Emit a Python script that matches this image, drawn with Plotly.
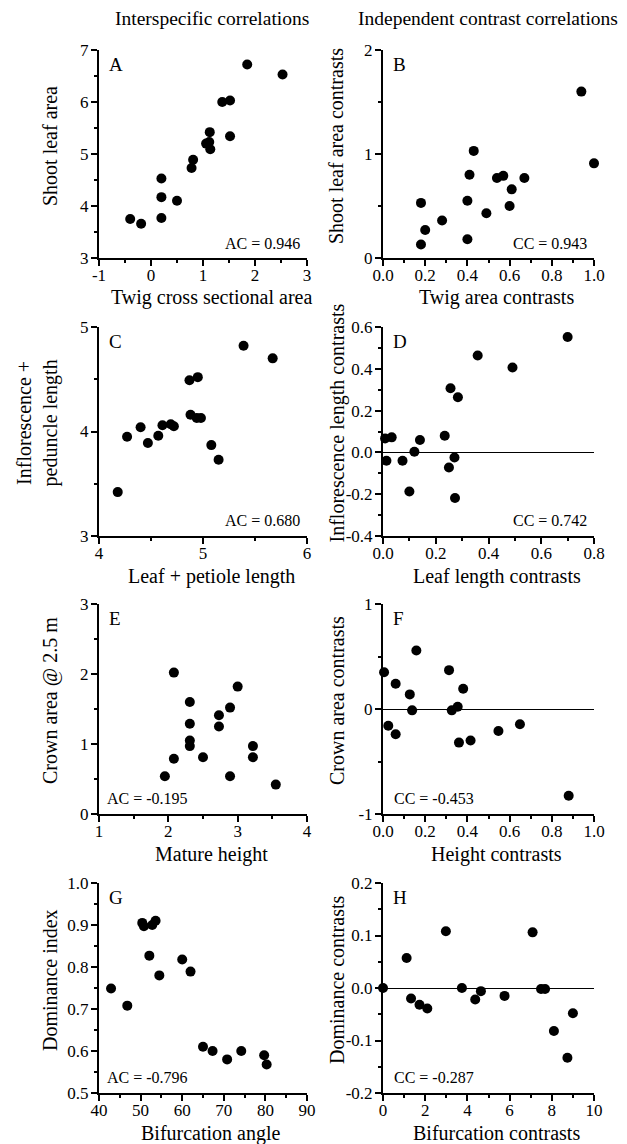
import plotly.graph_objects as go

# ---------------- data ----------------
A_x = [-0.40, -0.19, 0.20, 0.20, 0.20, 0.50, 0.78, 0.81, 1.06, 1.12, 1.14, 1.13, 1.37, 1.52, 1.52, 1.85, 2.53]
A_y = [3.75, 3.66, 4.53, 4.17, 3.77, 4.10, 4.73, 4.89, 5.20, 5.23, 5.09, 5.42, 6.00, 6.03, 5.34, 6.72, 6.53]

B_x = [0.18, 0.20, 0.18, 0.28, 0.40, 0.41, 0.43, 0.40, 0.49, 0.54, 0.57, 0.61, 0.60, 0.67, 0.94, 1.00]
B_y = [0.53, 0.27, 0.13, 0.36, 0.55, 0.80, 1.03, 0.18, 0.43, 0.77, 0.79, 0.66, 0.50, 0.77, 1.60, 0.91]

C_x = [4.18, 4.27, 4.40, 4.47, 4.57, 4.61, 4.69, 4.72, 4.87, 4.95, 4.88, 4.94, 4.98, 5.08, 5.15, 5.39, 5.67]
C_y = [3.42, 3.95, 4.04, 3.89, 3.96, 4.06, 4.07, 4.05, 4.49, 4.52, 4.16, 4.13, 4.13, 3.87, 3.73, 4.82, 4.70]

D_x = [0.008, 0.033, 0.013, 0.074, 0.119, 0.14, 0.10, 0.234, 0.256, 0.284, 0.271, 0.25, 0.273, 0.359, 0.491, 0.70]
D_y = [0.067, 0.072, -0.04, -0.04, 0.003, 0.059, -0.187, 0.08, 0.307, 0.264, -0.024, -0.072, -0.218, 0.464, 0.406, 0.552]

E_x = [1.95, 2.08, 2.08, 2.31, 2.31, 2.31, 2.31, 2.50, 2.73, 2.73, 2.89, 2.89, 3.00, 3.22, 3.22, 3.55]
E_y = [0.54, 0.79, 2.02, 1.60, 1.29, 1.05, 0.97, 0.81, 1.41, 1.25, 1.52, 0.54, 1.82, 0.97, 0.81, 0.42]

F_x = [0.005, 0.06, 0.158, 0.127, 0.138, 0.025, 0.06, 0.313, 0.38, 0.326, 0.354, 0.36, 0.415, 0.547, 0.649, 0.88]
F_y = [0.35, 0.24, 0.557, 0.139, -0.013, -0.16, -0.24, 0.37, 0.193, -0.013, 0.022, -0.32, -0.30, -0.21, -0.146, -0.826]

G_x = [42.9, 46.8, 50.4, 50.8, 52.1, 52.8, 53.6, 54.5, 60.0, 62.0, 65.0, 67.3, 70.8, 74.2, 79.7, 80.3]
G_y = [0.749, 0.708, 0.905, 0.897, 0.827, 0.90, 0.91, 0.78, 0.818, 0.789, 0.61, 0.60, 0.58, 0.60, 0.59, 0.568]

H_x = [0.0, 1.12, 1.33, 1.73, 2.10, 2.98, 3.74, 4.37, 4.64, 5.76, 7.09, 7.49, 7.68, 8.10, 9.0, 8.74]
H_y = [0.0, 0.057, -0.020, -0.032, -0.039, 0.108, 0.0, -0.022, -0.006, -0.015, 0.106, -0.002, -0.002, -0.082, -0.048, -0.133]

panel_letters = ["A", "B", "C", "D", "E", "F", "G", "H"]
corr_labels = ["AC = 0.946", "CC = 0.943", "AC = 0.680", "CC = 0.742",
               "AC = -0.195", "CC = -0.453", "AC = -0.796", "CC = -0.287"]
x_titles = ["Twig cross sectional area", "Twig area contrasts",
            "Leaf + petiole length", "Leaf length contrasts",
            "Mature height", "Height contrasts",
            "Bifurcation angle", "Bifurcation contrasts"]
y_titles = ["Shoot leaf area", "Shoot leaf area contrasts",
            "Inflorescence +<br>peduncle length", "Inflorescence length contrasts",
            "Crown area @ 2.5 m", "Crown area contrasts",
            "Dominance index", "Dominance contrasts"]
col_titles = ["Interspecific correlations", "Independent contrast correlations"]

# tick values / labels
x_ticks = [
    ([-1, 0, 1, 2, 3], ["-1", "0", "1", "2", "3"]),
    ([0.0, 0.2, 0.4, 0.6, 0.8, 1.0], ["0.0", "0.2", "0.4", "0.6", "0.8", "1.0"]),
    ([4, 5, 6], ["4", "5", "6"]),
    ([0.0, 0.2, 0.4, 0.6, 0.8], ["0.0", "0.2", "0.4", "0.6", "0.8"]),
    ([1, 2, 3, 4], ["1", "2", "3", "4"]),
    ([0.0, 0.2, 0.4, 0.6, 0.8, 1.0], ["0.0", "0.2", "0.4", "0.6", "0.8", "1.0"]),
    ([40, 50, 60, 70, 80, 90], ["40", "50", "60", "70", "80", "90"]),
    ([0, 2, 4, 6, 8, 10], ["0", "2", "4", "6", "8", "10"]),
]
y_ticks = [
    ([3, 4, 5, 6, 7], ["3", "4", "5", "6", "7"]),
    ([0, 1, 2], ["0", "1", "2"]),
    ([3, 4, 5], ["3", "4", "5"]),
    ([-0.4, -0.2, 0.0, 0.2, 0.4, 0.6], ["-0.4", "-0.2", "0.0", "0.2", "0.4", "0.6"]),
    ([0, 1, 2, 3], ["0", "1", "2", "3"]),
    ([-1, 0, 1], ["-1", "0", "1"]),
    ([0.5, 0.6, 0.7, 0.8, 0.9, 1.0], ["0.5", "0.6", "0.7", "0.8", "0.9", "1.0"]),
    ([-0.2, -0.1, 0.0, 0.1, 0.2], ["-0.2", "-0.1", "0.0", "0.1", "0.2"]),
]
x_minor = [0.5, 0.1, 0.5, 0.1, 0.5, 0.1, 5, 1]
y_minor = [0.5, 0.5, 0.5, 0.1, 0.5, 0.5, 0.05, 0.05]

series = [(A_x, A_y), (B_x, B_y), (C_x, C_y), (D_x, D_y),
          (E_x, E_y), (F_x, F_y), (G_x, G_y), (H_x, H_y)]
has_zero_line = [False, False, False, True, False, True, False, True]

# ---------------- layout geometry (window pixels) ----------------
PAGE_OFF = 8                      # default page body margin
W, H = 627 - PAGE_OFF, 1144 - PAGE_OFF
col_px = [(99, 307), (383, 594)]
row_px = [(50, 258), (327, 536), (604, 814), (883, 1093)]


def px(x):
    return (x - PAGE_OFF) / W


def py(y):
    return 1 - (y - PAGE_OFF) / H


FONT = "Liberation Serif, Times New Roman, serif"
fig = go.Figure()
layout = dict(width=W, height=H, margin=dict(l=0, r=0, t=0, b=0, autoexpand=False),
              template="none",
              paper_bgcolor="white", plot_bgcolor="white", showlegend=False,
              font=dict(family=FONT, color="black", size=17))
annotations = []

for i in range(8):
    r, c = divmod(i, 2)
    n = i + 1
    sfx = "" if n == 1 else str(n)
    xs, ys = series[i]
    fig.add_trace(go.Scatter(x=xs, y=ys, mode="markers",
                             marker=dict(color="black", size=10, line=dict(width=0)),
                             cliponaxis=False,
                             xaxis=f"x{sfx}", yaxis=f"y{sfx}"))
    x0, x1 = col_px[c]
    y0, y1 = row_px[r]
    xt, xl = x_ticks[i]
    yt, yl = y_ticks[i]
    axis_common = dict(showline=True, linecolor="black", linewidth=2,
                       ticks="outside", ticklen=6, tickwidth=2, tickcolor="black",
                       showgrid=False, mirror=False, automargin=False,
                       tickfont=dict(family=FONT, size=17, color="black"),
                       tickmode="array")
    layout[f"xaxis{sfx}"] = dict(
        axis_common, domain=[px(x0), px(x1)], anchor=f"y{sfx}",
        range=[xt[0], xt[-1]], tickvals=xt, ticktext=xl, zeroline=False,
        ticklabelstandoff=-5,
        minor=dict(ticks="outside", ticklen=3, tickwidth=1.5, tickcolor="black",
                   tick0=xt[0], dtick=x_minor[i], showgrid=False))
    layout[f"yaxis{sfx}"] = dict(
        axis_common, domain=[py(y1), py(y0)], anchor=f"x{sfx}",
        range=[yt[0], yt[-1]], tickvals=yt, ticktext=yl,
        ticklabelstandoff=-1,
        zeroline=has_zero_line[i], zerolinecolor="black", zerolinewidth=1.2,
        minor=dict(ticks="outside", ticklen=3, tickwidth=1.5, tickcolor="black",
                   tick0=yt[0], dtick=y_minor[i], showgrid=False))

    # panel letter
    annotations.append(dict(text=panel_letters[i], xref=f"x{sfx} domain", yref=f"y{sfx} domain",
                            x=0.04, y=0.93, xanchor="left", yanchor="middle",
                            showarrow=False, font=dict(family=FONT, size=19, color="black")))
    # correlation label
    left_side = i >= 4
    annotations.append(dict(text=corr_labels[i], xref=f"x{sfx} domain", yref=f"y{sfx} domain",
                            x=(0.03 if c == 0 else 0.045) if left_side else 0.975,
                            y=0.072, xanchor="left" if left_side else "right",
                            yanchor="middle", showarrow=False,
                            font=dict(family=FONT, size=16, color="black")))
    # x title
    annotations.append(dict(text=x_titles[i], xref="paper", yref="paper",
                            x=px((x0 + x1) / 2 + 8), y=py(y1 + 40),
                            xanchor="center", yanchor="middle", showarrow=False,
                            font=dict(family=FONT, size=20, color="black")))
    # y title
    ytx = [50, 336, 37, 337, 50, 337, 50, 337][i]
    annotations.append(dict(text=y_titles[i], xref="paper", yref="paper",
                            x=px(ytx), y=py((y0 + y1) / 2 - 8),
                            xanchor="center", yanchor="middle", textangle=-90,
                            showarrow=False,
                            font=dict(family=FONT, size=20, color="black")))

# column titles
for c, t in enumerate(col_titles):
    cx = [212, 488][c]
    annotations.append(dict(text=t, xref="paper", yref="paper", x=px(cx), y=py(18),
                            xanchor="center", yanchor="middle", showarrow=False,
                            font=dict(family=FONT, size=19.5, color="black")))

layout["annotations"] = annotations
fig.update_layout(**layout)
fig.write_html("out.html")
